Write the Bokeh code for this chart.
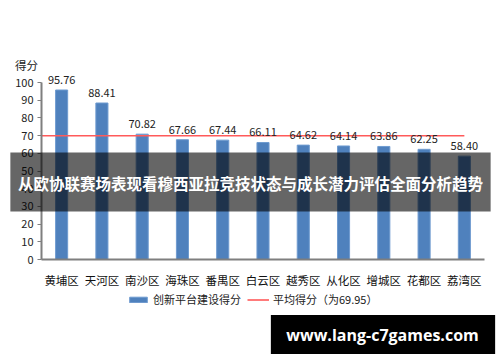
from bokeh.plotting import figure
from bokeh.models import (Range1d, FixedTicker, ColumnDataSource, Label,
                          Legend, LegendItem)
from bokeh.core.properties import value
from bokeh.embed import file_html
from bokeh.resources import INLINE

categories = ["黄埔区", "天河区", "南沙区", "海珠区", "番禺区", "白云区",
              "越秀区", "从化区", "增城区", "花都区", "荔湾区"]
scores = [95.76, 88.41, 70.82, 67.66, 67.44, 66.11, 64.62, 64.14, 63.86, 62.25, 58.40]
average = 69.95
y_ticks = [0, 10, 20, 30, 40, 50, 60, 70, 80, 90, 100]
bar_name = "创新平台建设得分"
line_name = "平均得分（为69.95）"
title_text = "从欧协联赛场表现看穆西亚拉竞技状态与成长潜力评估全面分析趋势"
url_text = "www.lang-c7games.com"

FONT = "Noto Sans CJK SC"
W, H = 500, 362
AX_LEFT = 41     # page x of the value axis
ZERO_PX = 259    # page y of value 0
PPU = 1.77       # px per score unit
SLOT = (484 - AX_LEFT) / len(categories)  # px per category


def sx(px):
    return px


def sy(py):
    return H - py


xs = list(range(len(categories)))
src = ColumnDataSource(dict(x=xs, top=scores, label=["%.2f" % v for v in scores]))

# the frame spans the whole page; axes sit at fixed data locations inside it
p = figure(width=W, height=H, output_backend="svg", toolbar_location=None,
           x_range=Range1d(-0.5 - AX_LEFT / SLOT, -0.5 + (W - AX_LEFT) / SLOT),
           y_range=Range1d(-(H - ZERO_PX) / PPU, ZERO_PX / PPU),
           min_border=0)
p.outline_line_color = None
p.grid.visible = False
p.background_fill_color = "white"

bars = p.vbar(x="x", top="top", width=0.3, bottom=0, source=src, fill_color="#4f81bd",
              line_color="#6f9bd0", line_width=1)
avg_line = p.line(x=[-0.5, len(categories) - 1], y=[average, average], line_color="#ff5a5a",
                  line_width=1.6)
p.text(x="x", y="top", text="label", source=src, text_align="center", text_baseline="bottom",
       y_offset=-6, text_font=value(FONT), text_font_size="11px", text_color="#222222")

ya = p.yaxis[0]
ya.fixed_location = -0.5
ya.ticker = FixedTicker(ticks=y_ticks)
ya.bounds = (0, 100)
ya.axis_line_color = "#7f7f7f"
ya.axis_line_width = 2
ya.major_tick_out = 4
ya.major_tick_in = 0
ya.major_tick_line_color = "#7f7f7f"
ya.minor_tick_line_color = None
ya.major_label_text_font = FONT
ya.major_label_text_font_size = "11px"
ya.major_label_text_color = "#222222"
ya.major_label_standoff = 4

xa = p.xaxis[0]
xa.fixed_location = 0
xa.bounds = (-0.5, len(categories) - 0.5)
xa.ticker = FixedTicker(ticks=xs)
xa.major_label_overrides = {i: c for i, c in enumerate(categories)}
xa.axis_line_color = "#7f7f7f"
xa.axis_line_width = 2
xa.major_tick_line_color = None
xa.minor_tick_line_color = None
xa.major_label_text_font = FONT
xa.major_label_text_font_size = "11.5px"
xa.major_label_text_color = "#111111"
xa.major_label_standoff = 6

p.add_layout(Label(x=sx(26), y=sy(64), x_units="screen", y_units="screen", text="得分",
                   text_align="center", text_baseline="middle", text_font=FONT,
                   text_font_size="11.5px", text_color="#222222"))

legend = Legend(items=[LegendItem(label=bar_name, renderers=[bars]),
                       LegendItem(label=line_name, renderers=[avg_line])],
                orientation="horizontal", location=(sx(127), sy(307)), padding=0, margin=0,
                spacing=6, label_standoff=4, glyph_width=22, glyph_height=7,
                border_line_color=None, background_fill_alpha=0,
                label_text_font=FONT, label_text_font_size="11px", label_text_color="#222222")
p.add_layout(legend, "center")

# semi-transparent banner (box defined by padding around a tiny blank text)
p.add_layout(Label(x=sx(250), y=sy(181.5), x_units="screen", y_units="screen", text=" ",
                   text_align="center", text_baseline="middle", text_font_size="1px",
                   background_fill_color="black", background_fill_alpha=0.6,
                   padding=(240, 29)))
p.add_layout(Label(x=sx(250), y=sy(182), x_units="screen", y_units="screen", text=title_text,
                   text_align="center", text_baseline="middle", text_font=FONT,
                   text_font_size="15.5px", text_font_style="bold", text_color="white"))

p.add_layout(Label(x=sx(382.5), y=sy(334), x_units="screen", y_units="screen", text=" ",
                   text_align="center", text_baseline="middle", text_font_size="1px",
                   background_fill_color="black", background_fill_alpha=1,
                   padding=(112, 19)))
p.add_layout(Label(x=sx(382), y=sy(334), x_units="screen", y_units="screen", text=url_text,
                   text_align="center", text_baseline="middle", text_font="Open Sans",
                   text_font_size="16px", text_font_style="bold", text_color="white"))

open("out.html", "w").write(file_html(p, INLINE))
